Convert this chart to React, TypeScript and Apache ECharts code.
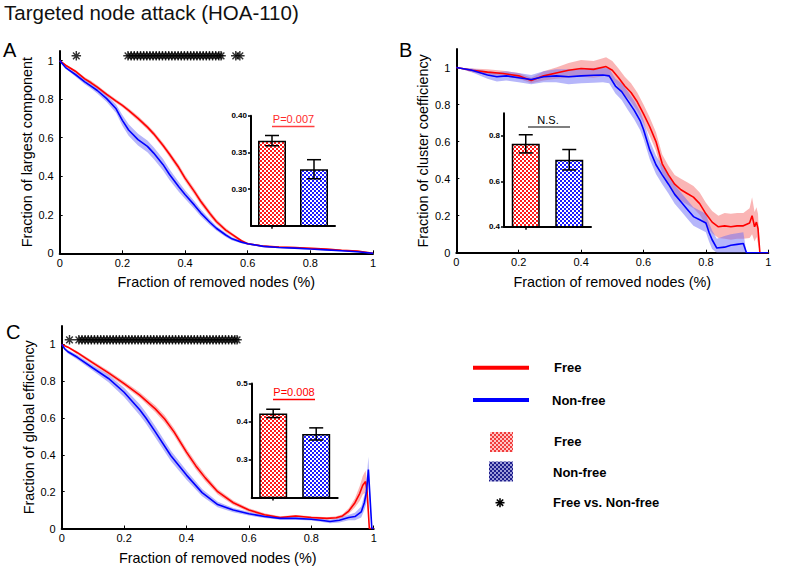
import React, { useEffect, useRef } from 'react';
import * as echarts from 'echarts';

const FONT = '"Liberation Sans", Arial, Helvetica, sans-serif';

// ---------- Panel A: largest component ----------
const aX = [0, 0.02, 0.05, 0.08, 0.1, 0.12, 0.15, 0.18, 0.2, 0.22, 0.25, 0.28, 0.3, 0.33, 0.35, 0.38, 0.4, 0.43, 0.45, 0.48, 0.5, 0.53, 0.55, 0.58, 0.6, 0.65, 0.7, 0.75, 0.8, 0.85, 0.9, 0.95, 1.0];
const aRed = [1.0, 0.975, 0.945, 0.905, 0.885, 0.862, 0.825, 0.79, 0.768, 0.742, 0.70, 0.655, 0.62, 0.56, 0.515, 0.445, 0.39, 0.32, 0.27, 0.205, 0.165, 0.12, 0.098, 0.065, 0.05, 0.037, 0.032, 0.03, 0.026, 0.022, 0.016, 0.012, 0.0];
const aRedErr = [0, 0.005, 0.008, 0.009, 0.01, 0.01, 0.01, 0.01, 0.01, 0.011, 0.012, 0.012, 0.013, 0.014, 0.015, 0.016, 0.016, 0.016, 0.016, 0.015, 0.013, 0.011, 0.009, 0.007, 0.005, 0.004, 0.004, 0.004, 0.004, 0.004, 0.004, 0.004, 0];
const aBlue = [1.0, 0.962, 0.928, 0.89, 0.868, 0.845, 0.803, 0.75, 0.69, 0.64, 0.59, 0.555, 0.52, 0.46, 0.41, 0.345, 0.305, 0.25, 0.21, 0.16, 0.13, 0.095, 0.075, 0.058, 0.05, 0.036, 0.03, 0.027, 0.022, 0.018, 0.013, 0.008, 0.0];
const aBlueErr = [0, 0.006, 0.01, 0.012, 0.013, 0.015, 0.018, 0.022, 0.028, 0.03, 0.03, 0.03, 0.03, 0.03, 0.028, 0.025, 0.022, 0.02, 0.018, 0.015, 0.012, 0.01, 0.008, 0.006, 0.005, 0.004, 0.004, 0.004, 0.004, 0.004, 0.004, 0.004, 0];
const aSig = [0.053, 0.218, 0.228, 0.238, 0.248, 0.258, 0.268, 0.278, 0.288, 0.298, 0.308, 0.318, 0.328, 0.338, 0.348, 0.358, 0.368, 0.378, 0.388, 0.398, 0.408, 0.418, 0.428, 0.438, 0.448, 0.458, 0.468, 0.478, 0.488, 0.498, 0.508, 0.515, 0.562, 0.575];

// ---------- Panel B: cluster coefficiency ----------
const bRedX = [0, 0.05, 0.1, 0.15, 0.2, 0.24, 0.28, 0.32, 0.36, 0.4, 0.44, 0.48, 0.5, 0.52, 0.54, 0.56, 0.58, 0.6, 0.62, 0.64, 0.66, 0.68, 0.7, 0.72, 0.74, 0.76, 0.78, 0.8, 0.82, 0.84, 0.86, 0.88, 0.9, 0.92, 0.94, 0.948, 0.956, 0.962, 0.967, 0.973, 1.0];
const bRed = [1.0, 0.985, 0.975, 0.968, 0.955, 0.93, 0.955, 0.97, 0.985, 0.995, 0.99, 1.005, 0.985, 0.945, 0.9, 0.865, 0.815, 0.75, 0.68, 0.6, 0.48, 0.42, 0.37, 0.34, 0.32, 0.3, 0.265, 0.21, 0.165, 0.14, 0.145, 0.14, 0.145, 0.145, 0.16, 0.2, 0.14, 0.165, 0.13, 0.0, 0.0];
const bRedErr = [0, 0.01, 0.015, 0.015, 0.015, 0.015, 0.025, 0.03, 0.04, 0.045, 0.045, 0.05, 0.05, 0.05, 0.05, 0.05, 0.05, 0.05, 0.05, 0.05, 0.05, 0.05, 0.05, 0.06, 0.06, 0.06, 0.06, 0.06, 0.06, 0.06, 0.07, 0.07, 0.07, 0.07, 0.08, 0.1, 0.08, 0.08, 0.08, 0, 0];
const bBlueX = [0, 0.05, 0.1, 0.13, 0.16, 0.2, 0.24, 0.28, 0.32, 0.36, 0.4, 0.44, 0.47, 0.49, 0.51, 0.53, 0.55, 0.57, 0.59, 0.6, 0.62, 0.64, 0.66, 0.68, 0.7, 0.72, 0.74, 0.76, 0.78, 0.8, 0.81, 0.82, 0.835, 0.86, 0.88, 0.9, 0.92, 0.93, 1.0];
const bBlue = [1.0, 0.985, 0.96, 0.95, 0.955, 0.945, 0.935, 0.95, 0.955, 0.95, 0.955, 0.958, 0.96, 0.955, 0.9, 0.87, 0.82, 0.77, 0.71, 0.665, 0.555, 0.475, 0.42, 0.37, 0.315, 0.275, 0.235, 0.195, 0.178, 0.16, 0.11, 0.07, 0.025, 0.03, 0.04, 0.045, 0.05, 0.0, 0.0];
const bBlueErr = [0, 0.01, 0.02, 0.025, 0.025, 0.025, 0.025, 0.03, 0.035, 0.04, 0.04, 0.04, 0.04, 0.04, 0.04, 0.045, 0.05, 0.05, 0.05, 0.05, 0.05, 0.05, 0.05, 0.05, 0.05, 0.05, 0.05, 0.05, 0.05, 0.05, 0.05, 0.05, 0.05, 0.06, 0.06, 0.06, 0.06, 0, 0];

// ---------- Panel C: global efficiency ----------
const cRedX = [0, 0.02, 0.05, 0.1, 0.15, 0.2, 0.25, 0.3, 0.33, 0.36, 0.4, 0.43, 0.46, 0.5, 0.55, 0.6, 0.65, 0.7, 0.75, 0.8, 0.85, 0.88, 0.9, 0.92, 0.94, 0.955, 0.965, 0.974, 0.979, 0.986, 1.0];
const cRed = [1.0, 0.985, 0.955, 0.9, 0.845, 0.787, 0.725, 0.65, 0.595, 0.525, 0.415, 0.34, 0.275, 0.2, 0.14, 0.1, 0.075, 0.06, 0.068, 0.06, 0.055, 0.058, 0.068, 0.095, 0.14, 0.19, 0.235, 0.255, 0.2, 0.0, 0.0];
const cRedErr = [0, 0.005, 0.008, 0.01, 0.012, 0.013, 0.015, 0.018, 0.02, 0.02, 0.02, 0.02, 0.018, 0.015, 0.012, 0.01, 0.008, 0.006, 0.006, 0.006, 0.006, 0.008, 0.01, 0.015, 0.025, 0.04, 0.05, 0.06, 0.05, 0, 0];
const cBlueX = [0, 0.01, 0.02, 0.05, 0.1, 0.15, 0.2, 0.25, 0.27, 0.3, 0.35, 0.4, 0.45, 0.5, 0.55, 0.6, 0.65, 0.7, 0.75, 0.8, 0.83, 0.86, 0.89, 0.92, 0.94, 0.96, 0.97, 0.977, 0.983, 0.994, 1.0];
const cBlue = [1.0, 0.975, 0.96, 0.93, 0.872, 0.815, 0.74, 0.645, 0.6, 0.525, 0.395, 0.29, 0.195, 0.13, 0.1, 0.08, 0.065, 0.055, 0.055, 0.05, 0.045, 0.038, 0.045, 0.06, 0.065, 0.09, 0.14, 0.2, 0.32, 0.0, 0.0];
const cBlueErr = [0, 0.008, 0.01, 0.012, 0.015, 0.02, 0.025, 0.03, 0.03, 0.03, 0.028, 0.025, 0.02, 0.015, 0.012, 0.01, 0.008, 0.007, 0.007, 0.007, 0.008, 0.01, 0.012, 0.015, 0.02, 0.03, 0.04, 0.06, 0.07, 0, 0];
const cSig = [0.025, 0.055, 0.065, 0.075, 0.085, 0.095, 0.105, 0.115, 0.125, 0.135, 0.145, 0.155, 0.165, 0.175, 0.185, 0.195, 0.205, 0.215, 0.225, 0.235, 0.245, 0.255, 0.265, 0.275, 0.285, 0.295, 0.305, 0.315, 0.325, 0.335, 0.345, 0.355, 0.365, 0.375, 0.385, 0.395, 0.405, 0.415, 0.425, 0.435, 0.445, 0.455, 0.465, 0.475, 0.485, 0.495, 0.505, 0.515, 0.525, 0.535, 0.545, 0.555, 0.562];

// ---------- Insets (area under curve) ----------
const insetCats = ['Free', 'Non-free'];
const aInsetMean = [0.366, 0.327];
const aInsetErr = [0.007, 0.013];
const bInsetMean = [0.765, 0.695];
const bInsetErr = [0.04, 0.045];
const cInsetMean = [0.421, 0.367];
const cInsetErr = [0.011, 0.016];

const xTicks = [0, 0.2, 0.4, 0.6, 0.8, 1];
const yTicks = [0, 0.2, 0.4, 0.6, 0.8, 1];

const STAR = 'path://M-0.75,-5L0.75,-5L0.75,5L-0.75,5Z M-5,-0.75L5,-0.75L5,0.75L-5,0.75Z M-4.03,-2.97L-2.97,-4.03L4.03,2.97L2.97,4.03Z M2.97,-4.03L4.03,-2.97L-2.97,4.03L-4.03,2.97Z';

function checker(fg: string, bg: string, cell: number) {
  const c = document.createElement('canvas');
  c.width = cell * 2;
  c.height = cell * 2;
  const ctx = c.getContext('2d')!;
  ctx.fillStyle = bg;
  ctx.fillRect(0, 0, cell * 2, cell * 2);
  ctx.fillStyle = fg;
  ctx.fillRect(0, 0, cell, cell);
  ctx.fillRect(cell, cell, cell, cell);
  return { image: c.toDataURL(), repeat: 'repeat', imageWidth: cell * 2, imageHeight: cell * 2 } as any;
}

const fmtMain = (v: number) => {
  const r = Math.round(v * 10) / 10;
  if (Math.abs(v - r) > 1e-6 || v > 1.0001) return '';
  return String(r);
};

function mainAxes(grid: number, ymax: number, yName: string) {
  const line = { show: true, onZero: false, lineStyle: { color: '#000', width: 2 } };
  const tick = { show: true, inside: true, length: 3, lineStyle: { color: '#000', width: 1 } };
  const nameStyle = { fontSize: 14.4, color: '#000', fontFamily: FONT };
  const x = {
    gridIndex: grid, type: 'value', min: 0, max: 1, interval: 0.2,
    axisLine: line, axisTick: { ...tick, customValues: xTicks }, splitLine: { show: false },
    axisLabel: { color: '#000', fontSize: 11, fontFamily: FONT, margin: 4, formatter: fmtMain, customValues: xTicks },
    name: 'Fraction of removed nodes (%)', nameLocation: 'middle', nameGap: 22, nameTextStyle: nameStyle,
  };
  const y = {
    gridIndex: grid, type: 'value', min: 0, max: ymax, interval: 0.2,
    axisLine: line, axisTick: { ...tick, customValues: yTicks }, splitLine: { show: false },
    axisLabel: { color: '#000', fontSize: 11, fontFamily: FONT, margin: 6, formatter: fmtMain, customValues: yTicks },
    name: yName, nameLocation: 'middle', nameGap: 26, nameTextStyle: nameStyle,
  };
  return [x, y];
}

function insetAxes(grid: number, min: number, max: number, ticks: number[], digits: number) {
  const x = {
    gridIndex: grid, type: 'category', data: insetCats,
    axisLine: { show: true, lineStyle: { color: '#000', width: 2 } },
    axisTick: { show: true, alignWithLabel: true, length: 3, lineStyle: { color: '#000', width: 1.5 } },
    axisLabel: { show: false }, splitLine: { show: false },
  };
  const y = {
    gridIndex: grid, type: 'value', min, max,
    axisLine: { show: true, lineStyle: { color: '#000', width: 2 } },
    axisTick: { show: true, length: 3, lineStyle: { color: '#000', width: 1.5 }, customValues: ticks },
    axisLabel: {
      color: '#000', fontSize: 8, fontWeight: 'bold', fontFamily: FONT, margin: 4, customValues: ticks,
      formatter: (v: number) => (ticks.some((t) => Math.abs(t - v) < 1e-6) ? v.toFixed(digits) : ''),
    },
    splitLine: { show: false },
  };
  return [x, y];
}

// shaded band (mean ± error) drawn as one polygon through the axes' scales
function band(grid: number, xs: number[], ys: number[], errs: number[], color: string) {
  const data = xs.map((x, i) => [x, Math.max(0, ys[i] - errs[i]), ys[i] + errs[i]]);
  return {
    type: 'custom', xAxisIndex: grid, yAxisIndex: grid, z: 1, silent: true, clip: true,
    encode: { x: 0, y: [1, 2] },
    data,
    renderItem: (params: any, api: any) => {
      if (params.dataIndex !== 0) return null;
      const pts: number[][] = [];
      for (let i = 0; i < data.length; i++) pts.push(api.coord([data[i][0], data[i][2]]));
      for (let i = data.length - 1; i >= 0; i--) pts.push(api.coord([data[i][0], data[i][1]]));
      return { type: 'polygon', shape: { points: pts }, style: { fill: color } };
    },
  };
}

function curve(grid: number, xs: number[], ys: number[], color: string) {
  return {
    type: 'line', xAxisIndex: grid, yAxisIndex: grid, data: xs.map((x, i) => [x, ys[i]]),
    symbol: 'none', showSymbol: false, lineStyle: { color, width: 1.6 }, z: 3,
  };
}

function stars(grid: number, xs: number[]) {
  return {
    type: 'scatter', xAxisIndex: grid, yAxisIndex: grid, data: xs.map((x) => [x, 1.025]),
    symbol: STAR, symbolSize: 9.5, itemStyle: { color: '#000' }, z: 4, clip: false,
  };
}

function bars(grid: number, means: number[], redPat: any, bluePat: any) {
  return {
    type: 'bar', xAxisIndex: grid, yAxisIndex: grid, barWidth: 28,
    data: means.map((m, i) => ({ value: m, itemStyle: { color: i === 0 ? redPat : bluePat } })),
    itemStyle: { borderColor: '#000', borderWidth: 1.5 }, z: 5,
  };
}

function errBars(grid: number, means: number[], errs: number[]) {
  return {
    type: 'custom', xAxisIndex: grid, yAxisIndex: grid, z: 6,
    encode: { x: 0, y: 1 },
    data: means.map((m, i) => [i, m, errs[i]]),
    renderItem: (_p: any, api: any) => {
      const c = api.value(0);
      const m = api.value(1);
      const e = api.value(2);
      const p1 = api.coord([c, m + e]);
      const p2 = api.coord([c, m - e]);
      const hw = 7;
      const style = { stroke: '#000', lineWidth: 1.5 };
      return {
        type: 'group',
        children: [
          { type: 'line', shape: { x1: p1[0], y1: p1[1], x2: p2[0], y2: p2[1] }, style },
          { type: 'line', shape: { x1: p1[0] - hw, y1: p1[1], x2: p1[0] + hw, y2: p1[1] }, style },
          { type: 'line', shape: { x1: p2[0] - hw, y1: p2[1], x2: p2[0] + hw, y2: p2[1] }, style },
        ],
      };
    },
  };
}

function txt(x: number, y: number, text: string, size: number, opts: any = {}) {
  return {
    type: 'text', x, y, z: 10,
    style: {
      text, fontSize: size, fontFamily: FONT, fill: opts.fill || '#000', fontWeight: opts.weight || 'normal',
      align: opts.align || 'left', verticalAlign: 'middle',
    },
  };
}

function seg(x1: number, y1: number, x2: number, y2: number, color: string, w: number) {
  return { type: 'line', z: 10, shape: { x1, y1, x2, y2 }, style: { stroke: color, lineWidth: w } };
}

function starGlyph(cx: number, cy: number, r: number) {
  const d = r * 0.707;
  return [
    seg(cx - r, cy, cx + r, cy, '#000', 1.6),
    seg(cx, cy - r, cx, cy + r, '#000', 1.6),
    seg(cx - d, cy - d, cx + d, cy + d, '#000', 1.6),
    seg(cx - d, cy + d, cx + d, cy - d, '#000', 1.6),
  ];
}

export default function App() {
  const ref = useRef<HTMLDivElement>(null);
  useEffect(() => {
    if (!ref.current) return;
    const chart = echarts.init(ref.current, undefined, { renderer: 'svg' });
    const redPat = checker('#ff1a1a', '#ffffff', 2);
    const bluePat = checker('#1a1aff', '#ffffff', 2);
    const redLeg = checker('#f03c3c', '#ffc4c4', 2);
    const blueLeg = checker('#1e1e8c', '#9c9cd8', 2);
    const redBand = 'rgba(245,120,120,0.55)';
    const blueBand = 'rgba(110,110,245,0.5)';

    const [ax, ay] = mainAxes(0, 1.05, 'Fraction of largest component');
    const [aix, aiy] = insetAxes(1, 0.25, 0.40, [0.3, 0.35, 0.4], 2);
    const [bx, by] = mainAxes(2, 1.1, 'Fraction of cluster coefficiency');
    const [bix, biy] = insetAxes(3, 0.4, 0.9, [0.4, 0.6, 0.8], 1);
    const [cx, cy] = mainAxes(4, 1.1, 'Fraction of global efficiency');
    const [cix, ciy] = insetAxes(5, 0.2, 0.5, [0.3, 0.4, 0.5], 1);

    const option: any = {
      animation: false,
      backgroundColor: '#fff',
      grid: [
        { left: 59.7, top: 51, width: 313.3, height: 202.3 },
        { left: 251, top: 115.7, width: 84, height: 110 },
        { left: 456.3, top: 49, width: 312, height: 203.7 },
        { left: 504, top: 113.2, width: 87, height: 113.5 },
        { left: 61.7, top: 326, width: 312, height: 202.5 },
        { left: 251.7, top: 383.4, width: 86, height: 114 },
      ],
      xAxis: [ax, aix, bx, bix, cx, cix],
      yAxis: [ay, aiy, by, biy, cy, ciy],
      series: [
        band(0, aX, aRed, aRedErr, redBand),
        band(0, aX, aBlue, aBlueErr, blueBand),
        curve(0, aX, aRed, '#ff0000'),
        curve(0, aX, aBlue, '#0000ff'),
        stars(0, aSig),
        bars(1, aInsetMean, redPat, bluePat),
        errBars(1, aInsetMean, aInsetErr),

        band(2, bRedX, bRed, bRedErr, redBand),
        band(2, bBlueX, bBlue, bBlueErr, blueBand),
        curve(2, bRedX, bRed, '#ff0000'),
        curve(2, bBlueX, bBlue, '#0000ff'),
        bars(3, bInsetMean, redPat, bluePat),
        errBars(3, bInsetMean, bInsetErr),

        band(4, cRedX, cRed, cRedErr, redBand),
        band(4, cBlueX, cBlue, cBlueErr, blueBand),
        curve(4, cRedX, cRed, '#ff0000'),
        curve(4, cBlueX, cBlue, '#0000ff'),
        stars(4, cSig),
        bars(5, cInsetMean, redPat, bluePat),
        errBars(5, cInsetMean, cInsetErr),
      ],
      graphic: [
        txt(4, 12, 'Targeted node attack (HOA-110)', 20.5, { fill: '#111' }),
        txt(3, 50, 'A', 20),
        txt(399, 50, 'B', 20),
        txt(6, 332, 'C', 20),
        // inset annotations
        txt(293.5, 119, 'P=0.007', 11, { fill: '#ff2a2a', align: 'center' }),
        seg(272, 126.5, 314.5, 126.5, '#ff4040', 1.5),
        txt(548, 119.5, 'N.S.', 11, { align: 'center' }),
        seg(528, 127, 570, 127, '#000', 1.2),
        txt(294, 391.7, 'P=0.008', 11, { fill: '#ff0000', align: 'center' }),
        seg(273, 399.5, 315, 399.5, '#ff0000', 1.5),
        // legend
        seg(473, 367.7, 529, 367.7, '#ff0000', 4),
        txt(554, 367.7, 'Free', 13, { weight: 'bold' }),
        seg(473, 400, 529, 400, '#0000ff', 4),
        txt(552, 400.5, 'Non-free', 13, { weight: 'bold' }),
        { type: 'rect', z: 10, shape: { x: 490, y: 432, width: 23, height: 20 }, style: { fill: redLeg } },
        txt(554, 441.7, 'Free', 13, { weight: 'bold' }),
        { type: 'rect', z: 10, shape: { x: 489, y: 461.5, width: 24, height: 20 }, style: { fill: blueLeg } },
        txt(553, 472.7, 'Non-free', 13, { weight: 'bold' }),
        ...starGlyph(500, 502.7, 4.5),
        txt(553, 502.7, 'Free vs. Non-free', 13, { weight: 'bold' }),
      ],
    };
    chart.setOption(option);
    return () => chart.dispose();
  }, []);
  return <div ref={ref} style={{ position: 'absolute', left: 0, top: 0, width: 787, height: 567 }} />;
}
